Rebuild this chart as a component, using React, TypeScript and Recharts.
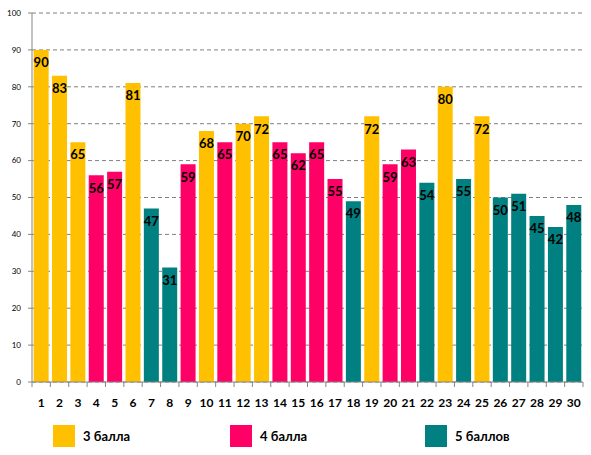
import { BarChart, Bar, XAxis, YAxis, CartesianGrid, Cell, LabelList } from "recharts";

const categories = [
  "1", "2", "3", "4", "5", "6", "7", "8", "9", "10",
  "11", "12", "13", "14", "15", "16", "17", "18", "19", "20",
  "21", "22", "23", "24", "25", "26", "27", "28", "29", "30",
];
const scores = [90, 83, 65, 56, 57, 81, 47, 31, 59, 68, 65, 70, 72, 65, 62, 65, 55, 49, 72, 59, 63, 54, 80, 55, 72, 50, 51, 45, 42, 48];
const grades = [3, 3, 3, 4, 4, 3, 5, 5, 4, 3, 4, 3, 3, 4, 4, 4, 4, 5, 3, 4, 4, 5, 3, 5, 3, 5, 5, 5, 5, 5];
const yTicks = [0, 10, 20, 30, 40, 50, 60, 70, 80, 90, 100];
const legendItems = [
  { grade: 3, label: "3 балла" },
  { grade: 4, label: "4 балла" },
  { grade: 5, label: "5 баллов" },
];

const gradeColors: Record<number, string> = {
  3: "#FFC000",
  4: "#FF0066",
  5: "#008080",
};

const data = categories.map((name, i) => ({ name, value: scores[i], grade: grades[i] }));

const FONT = "Lato, 'Liberation Sans', sans-serif";

function XTick(props: any) {
  const { x, y, payload, index } = props;
  const half = payload && payload.offset ? payload.offset : 9.18;
  return (
    <g>
      <line x1={x - half} y1={y} x2={x - half} y2={y + 5} stroke="#868686" />
      {index === categories.length - 1 && (
        <line x1={x + half} y1={y} x2={x + half} y2={y + 5} stroke="#868686" />
      )}
      <text
        x={x}
        y={y + 22}
        textAnchor="middle"
        dominantBaseline="middle"
        fontSize={12}
        fontWeight="bold"
        fontFamily={FONT}
        fill="#000"
      >
        {payload.value}
      </text>
    </g>
  );
}

const legendLeft = [53, 230, 425];

export default function App() {
  return (
    <div style={{ position: "absolute", left: 0, top: 0, width: 591, height: 455, background: "#fff" }}>
      <BarChart
        width={591}
        height={455}
        data={data}
        margin={{ top: 13, right: 8, bottom: 0, left: 0 }}
        barCategoryGap="9%"
      >
        <CartesianGrid
          horizontal
          vertical={false}
          strokeDasharray="4 3"
          stroke="#808080"
        />
        <XAxis
          dataKey="name"
          interval={0}
          height={73}
          tickSize={0}
          tickMargin={0}
          tickLine={false}
          axisLine={{ stroke: "#868686" }}
          tick={<XTick />}
        />
        <YAxis
          width={32}
          domain={[0, 100]}
          ticks={yTicks}
          interval={0}
          tickSize={4}
          tickMargin={7}
          axisLine={{ stroke: "#868686" }}
          tickLine={{ stroke: "#868686" }}
          tick={{ fontSize: 8, fill: "#000", fontFamily: FONT }}
        />
        <Bar dataKey="value" isAnimationActive={false}>
          {data.map((d, i) => (
            <Cell key={i} fill={gradeColors[d.grade]} />
          ))}
          <LabelList
            dataKey="value"
            position="insideTop"
            offset={8}
            style={{ fontSize: 13, fontWeight: "bold", fill: "#000", fontFamily: FONT }}
          />
        </Bar>
      </BarChart>
      {legendItems.map((item, i) => (
        <div
          key={item.grade}
          style={{
            position: "absolute",
            left: legendLeft[i],
            top: 425,
            display: "flex",
            alignItems: "center",
            fontFamily: FONT,
            fontWeight: "bold",
            fontSize: 13,
          }}
        >
          <span style={{ width: 22, height: 22, background: gradeColors[item.grade], display: "inline-block" }} />
          <span style={{ marginLeft: 8 }}>{item.label}</span>
        </div>
      ))}
    </div>
  );
}
